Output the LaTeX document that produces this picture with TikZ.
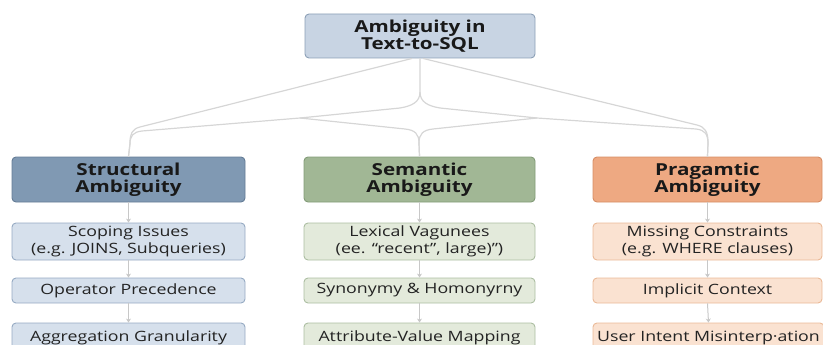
\documentclass[tikz,border=0pt]{standalone}
\usepackage{fontspec}
\setmainfont{Open Sans}[FakeStretch=1.25]
\usetikzlibrary{arrows.meta}
\definecolor{linec}{RGB}{214,214,214}
\definecolor{arrc}{RGB}{200,200,200}
\definecolor{txt}{RGB}{35,35,35}
\definecolor{rootf}{RGB}{200,212,227}
\definecolor{rootd}{RGB}{140,160,182}
\definecolor{sthf}{RGB}{128,153,179}
\definecolor{sthd}{RGB}{100,124,150}
\definecolor{stsf}{RGB}{214,224,236}
\definecolor{stsd}{RGB}{150,170,195}
\definecolor{sehf}{RGB}{161,183,149}
\definecolor{sehd}{RGB}{130,155,120}
\definecolor{sesf}{RGB}{227,234,219}
\definecolor{sesd}{RGB}{172,190,162}
\definecolor{prhf}{RGB}{238,169,130}
\definecolor{prhd}{RGB}{214,141,101}
\definecolor{prsf}{RGB}{250,226,209}
\definecolor{prsd}{RGB}{234,186,152}
\tikzset{
  box/.style={rectangle, rounded corners=4pt, line width=0.9pt, align=center, inner sep=0pt},
  headbox/.style={box, font=\fontsize{16.5}{17}\selectfont\bfseries, text=black!90},
  subbox/.style={box, font=\fontsize{14.2}{16.5}\selectfont, text=txt},
  conn/.style={draw=linec, line width=1.2pt},
  flow/.style={draw=arrc, line width=1pt, -{Stealth[length=4pt,width=5pt]}},
}
\begin{document}
\begin{tikzpicture}[x=1pt,y=-1pt]
\useasboundingbox (0,0) rectangle (823,345);
% root
\node[headbox, fill=rootf, draw=rootd, minimum width=230, minimum height=44] (root) at (420,36) {Ambiguity in\\Text-to-SQL};
% headers
\node[headbox, fill=sthf, draw=sthd, minimum width=233, minimum height=45] (st) at (128.5,179.5) {Structural\\Ambiguity};
\node[headbox, fill=sehf, draw=sehd, minimum width=231, minimum height=45] (se) at (419.5,179.5) {Semantic\\Ambiguity};
\node[headbox, fill=prhf, draw=prhd, minimum width=229, minimum height=45] (pr) at (707.5,179.5) {Pragamtic\\Ambiguity};
% structural column
\node[subbox, fill=stsf, draw=stsd, minimum width=233, minimum height=37] (st1) at (128.5,241.5) {Scoping Issues\\(e.g. JOINS, Subqueries)};
\node[subbox, fill=stsf, draw=stsd, minimum width=233, minimum height=25] (st2) at (128.5,290.5) {Operator Precedence};
\node[subbox, fill=stsf, draw=stsd, minimum width=233, minimum height=30] (st3) at (128.5,338) {Aggregation Granularity};
% semantic column
\node[subbox, fill=sesf, draw=sesd, minimum width=231, minimum height=37] (se1) at (419.5,241.5) {Lexical Vagunees\\(ee. “recent”, large)”)};
\node[subbox, fill=sesf, draw=sesd, minimum width=231, minimum height=25] (se2) at (419.5,290.5) {Synonymy \& Homonyrny};
\node[subbox, fill=sesf, draw=sesd, minimum width=231, minimum height=30] (se3) at (419.5,338) {Attribute-Value Mapping};
% pragmatic column
\node[subbox, fill=prsf, draw=prsd, minimum width=229, minimum height=37] (pr1) at (707.5,241.5) {Missing Constraints\\(e.g. WHERE clauses)};
\node[subbox, fill=prsf, draw=prsd, minimum width=229, minimum height=25] (pr2) at (707.5,290.5) {Implicit Context};
\node[subbox, fill=prsf, draw=prsd, minimum width=231, minimum height=30] (pr3) at (708.5,338) {User Intent Misinterp·ation};
% flow arrows
\foreach \a/\b in {st/st1,st1/st2,st2/st3,se/se1,se1/se2,se2/se3,pr/pr1,pr1/pr2,pr2/pr3}
  \draw[flow] (\a.south) -- (\b.north);
% connector junctions
\coordinate (j0) at (420,92);
\coordinate (jl) at (300,118);
\coordinate (jr) at (537,118);
% connectors
\draw[conn] ([xshift=-8pt]root.south) -- (140,127) .. controls (132,129) and (130,134) .. (130,143) -- (st.north);
\draw[conn] (root.south) -- (j0) .. controls (420,102) and (412,106) .. (400,108) -- (jl) -- (142,131) .. controls (133,132) and (130,136) .. (130,144) -- (st.north);
\draw[conn] (j0) .. controls (420,102) and (428,106) .. (440,108) -- (jr) -- (696,129) .. controls (705,130) and (708,134) .. (708,144) -- (pr.north);
\draw[conn] ([xshift=3pt]root.south) -- (697,125) .. controls (705,127) and (708,132) .. (708,142) -- (pr.north);
\draw[conn] (jl) -- (405,129) .. controls (415,130) and (419,134) .. (419,143) -- (se.north);
\draw[conn] (jr) -- (433,129) .. controls (423,130) and (419,134) .. (419,143) -- (se.north);
\end{tikzpicture}
\end{document}
